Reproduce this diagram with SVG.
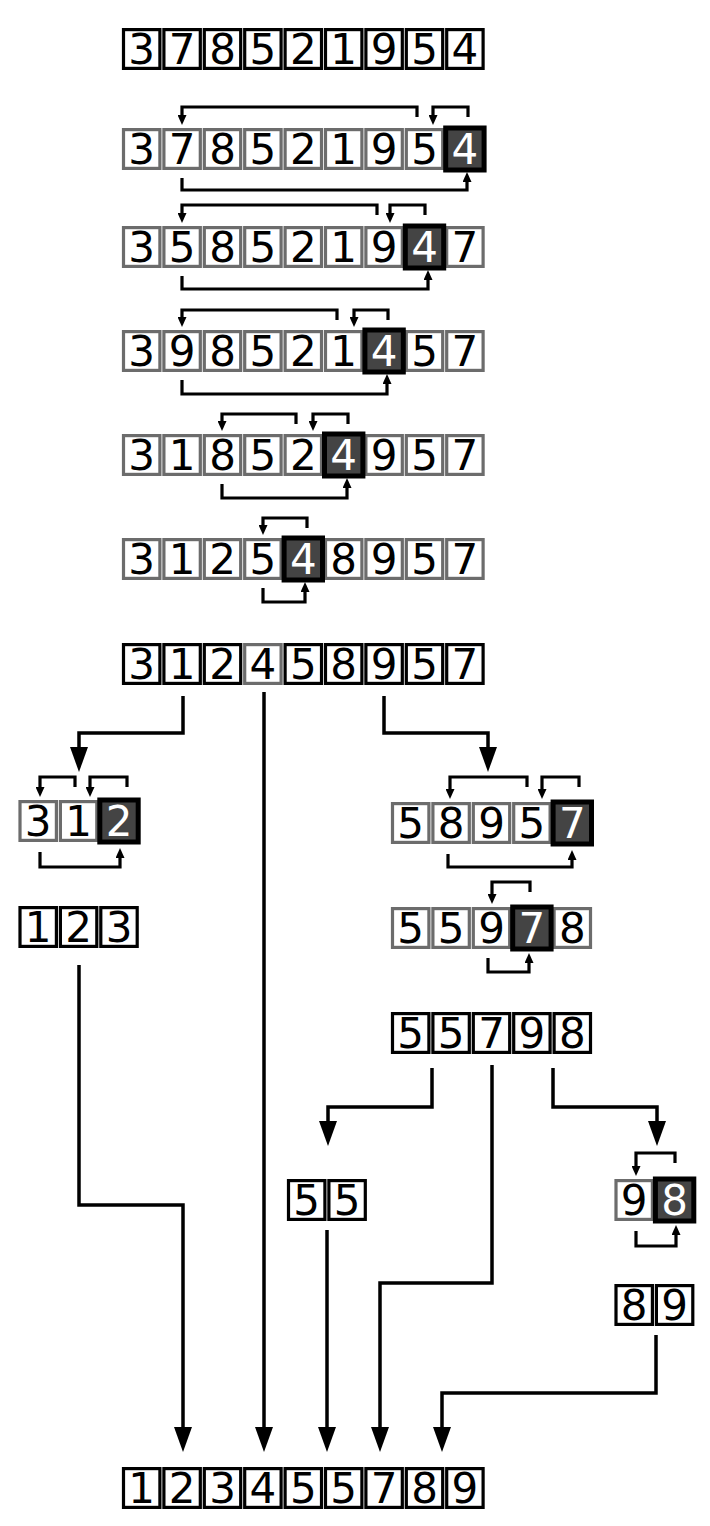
<svg xmlns="http://www.w3.org/2000/svg" width="710" height="1526" viewBox="0 0 710 1526">
<defs>
<style>
.c{fill:#fff;stroke:#000;stroke-width:3.2}
.g{fill:#fff;stroke:#6c6c6c;stroke-width:3.2}
.p{fill:#444;stroke:#000;stroke-width:5}
text{font-family:"DejaVu Sans","Verdana",sans-serif;font-size:42px;text-anchor:middle;fill:#000}
text.w{fill:#fff}
.br{fill:none;stroke:#000;stroke-width:3.2;marker-end:url(#sa)}
.cn{fill:none;stroke:#000;stroke-width:3.5;marker-end:url(#ba)}
</style>
<marker id="sa" viewBox="0 0 10 9" refX="4" refY="4.5" markerWidth="10" markerHeight="9" markerUnits="userSpaceOnUse" orient="auto"><path d="M0,0 L10,4.5 L0,9 z" fill="#000"/></marker>
<marker id="ba" viewBox="0 0 25 18" refX="12" refY="9" markerWidth="25" markerHeight="18" markerUnits="userSpaceOnUse" orient="auto"><path d="M0,0 L25,9 L0,18 z" fill="#000"/></marker>
</defs>
<rect width="710" height="1526" fill="#fff"/>

<g id="row1" transform="translate(121.5,28)">
<rect class="c" x="2" y="1.6" width="36.4" height="38.8"/><rect class="c" x="42.4" y="1.6" width="36.4" height="38.8"/><rect class="c" x="82.8" y="1.6" width="36.4" height="38.8"/><rect class="c" x="123.2" y="1.6" width="36.4" height="38.8"/><rect class="c" x="163.6" y="1.6" width="36.4" height="38.8"/><rect class="c" x="204" y="1.6" width="36.4" height="38.8"/><rect class="c" x="244.4" y="1.6" width="36.4" height="38.8"/><rect class="c" x="284.8" y="1.6" width="36.4" height="38.8"/><rect class="c" x="325.2" y="1.6" width="36.4" height="38.8"/>
<text x="20.2" y="36.3">3</text><text x="60.6" y="36.3">7</text><text x="101" y="36.3">8</text><text x="141.4" y="36.3">5</text><text x="181.8" y="36.3">2</text><text x="222.2" y="36.3">1</text><text x="262.6" y="36.3">9</text><text x="303" y="36.3">5</text><text x="343.4" y="36.3">4</text>
</g>

<g id="row2" transform="translate(121.5,128)">
<rect class="g" x="2" y="1.6" width="36.4" height="38.8"/><rect class="g" x="42.4" y="1.6" width="36.4" height="38.8"/><rect class="g" x="82.8" y="1.6" width="36.4" height="38.8"/><rect class="g" x="123.2" y="1.6" width="36.4" height="38.8"/><rect class="g" x="163.6" y="1.6" width="36.4" height="38.8"/><rect class="g" x="204" y="1.6" width="36.4" height="38.8"/><rect class="g" x="244.4" y="1.6" width="36.4" height="38.8"/><rect class="g" x="284.8" y="1.6" width="36.4" height="38.8"/>
<rect class="p" x="324.2" y="0" width="38.4" height="42"/>
<text x="20.2" y="36.3">3</text><text x="60.6" y="36.3">7</text><text x="101" y="36.3">8</text><text x="141.4" y="36.3">5</text><text x="181.8" y="36.3">2</text><text x="222.2" y="36.3">1</text><text x="262.6" y="36.3">9</text><text x="303" y="36.3">5</text><text class="w" x="343.4" y="36.3">4</text>
</g>

<g id="row3" transform="translate(121.5,226)">
<rect class="g" x="2" y="1.6" width="36.4" height="38.8"/><rect class="g" x="42.4" y="1.6" width="36.4" height="38.8"/><rect class="g" x="82.8" y="1.6" width="36.4" height="38.8"/><rect class="g" x="123.2" y="1.6" width="36.4" height="38.8"/><rect class="g" x="163.6" y="1.6" width="36.4" height="38.8"/><rect class="g" x="204" y="1.6" width="36.4" height="38.8"/><rect class="g" x="244.4" y="1.6" width="36.4" height="38.8"/><rect class="g" x="325.2" y="1.6" width="36.4" height="38.8"/>
<rect class="p" x="283.8" y="0" width="38.4" height="42"/>
<text x="20.2" y="36.3">3</text><text x="60.6" y="36.3">5</text><text x="101" y="36.3">8</text><text x="141.4" y="36.3">5</text><text x="181.8" y="36.3">2</text><text x="222.2" y="36.3">1</text><text x="262.6" y="36.3">9</text><text class="w" x="303" y="36.3">4</text><text x="343.4" y="36.3">7</text>
</g>

<g id="row4" transform="translate(121.5,330)">
<rect class="g" x="2" y="1.6" width="36.4" height="38.8"/><rect class="g" x="42.4" y="1.6" width="36.4" height="38.8"/><rect class="g" x="82.8" y="1.6" width="36.4" height="38.8"/><rect class="g" x="123.2" y="1.6" width="36.4" height="38.8"/><rect class="g" x="163.6" y="1.6" width="36.4" height="38.8"/><rect class="g" x="204" y="1.6" width="36.4" height="38.8"/><rect class="g" x="284.8" y="1.6" width="36.4" height="38.8"/><rect class="g" x="325.2" y="1.6" width="36.4" height="38.8"/>
<rect class="p" x="243.4" y="0" width="38.4" height="42"/>
<text x="20.2" y="36.3">3</text><text x="60.6" y="36.3">9</text><text x="101" y="36.3">8</text><text x="141.4" y="36.3">5</text><text x="181.8" y="36.3">2</text><text x="222.2" y="36.3">1</text><text class="w" x="262.6" y="36.3">4</text><text x="303" y="36.3">5</text><text x="343.4" y="36.3">7</text>
</g>

<g id="row5" transform="translate(121.5,434)">
<rect class="g" x="2" y="1.6" width="36.4" height="38.8"/><rect class="g" x="42.4" y="1.6" width="36.4" height="38.8"/><rect class="g" x="82.8" y="1.6" width="36.4" height="38.8"/><rect class="g" x="123.2" y="1.6" width="36.4" height="38.8"/><rect class="g" x="163.6" y="1.6" width="36.4" height="38.8"/><rect class="g" x="244.4" y="1.6" width="36.4" height="38.8"/><rect class="g" x="284.8" y="1.6" width="36.4" height="38.8"/><rect class="g" x="325.2" y="1.6" width="36.4" height="38.8"/>
<rect class="p" x="203" y="0" width="38.4" height="42"/>
<text x="20.2" y="36.3">3</text><text x="60.6" y="36.3">1</text><text x="101" y="36.3">8</text><text x="141.4" y="36.3">5</text><text x="181.8" y="36.3">2</text><text class="w" x="222.2" y="36.3">4</text><text x="262.6" y="36.3">9</text><text x="303" y="36.3">5</text><text x="343.4" y="36.3">7</text>
</g>

<g id="row6" transform="translate(121.5,538)">
<rect class="g" x="2" y="1.6" width="36.4" height="38.8"/><rect class="g" x="42.4" y="1.6" width="36.4" height="38.8"/><rect class="g" x="82.8" y="1.6" width="36.4" height="38.8"/><rect class="g" x="123.2" y="1.6" width="36.4" height="38.8"/><rect class="g" x="204" y="1.6" width="36.4" height="38.8"/><rect class="g" x="244.4" y="1.6" width="36.4" height="38.8"/><rect class="g" x="284.8" y="1.6" width="36.4" height="38.8"/><rect class="g" x="325.2" y="1.6" width="36.4" height="38.8"/>
<rect class="p" x="162.6" y="0" width="38.4" height="42"/>
<text x="20.2" y="36.3">3</text><text x="60.6" y="36.3">1</text><text x="101" y="36.3">2</text><text x="141.4" y="36.3">5</text><text class="w" x="181.8" y="36.3">4</text><text x="222.2" y="36.3">8</text><text x="262.6" y="36.3">9</text><text x="303" y="36.3">5</text><text x="343.4" y="36.3">7</text>
</g>

<g id="row7" transform="translate(121.5,643)">
<rect class="c" x="2" y="1.6" width="36.4" height="38.8"/><rect class="c" x="42.4" y="1.6" width="36.4" height="38.8"/><rect class="c" x="82.8" y="1.6" width="36.4" height="38.8"/><rect class="g" x="123.2" y="1.6" width="36.4" height="38.8"/><rect class="c" x="163.6" y="1.6" width="36.4" height="38.8"/><rect class="c" x="204" y="1.6" width="36.4" height="38.8"/><rect class="c" x="244.4" y="1.6" width="36.4" height="38.8"/><rect class="c" x="284.8" y="1.6" width="36.4" height="38.8"/><rect class="c" x="325.2" y="1.6" width="36.4" height="38.8"/>
<text x="20.2" y="36.3">3</text><text x="60.6" y="36.3">1</text><text x="101" y="36.3">2</text><text x="141.4" y="36.3">4</text><text x="181.8" y="36.3">5</text><text x="222.2" y="36.3">8</text><text x="262.6" y="36.3">9</text><text x="303" y="36.3">5</text><text x="343.4" y="36.3">7</text>
</g>

<g id="left312" transform="translate(18,800)">
<rect class="g" x="2" y="1.6" width="36.4" height="38.8"/><rect class="g" x="42.4" y="1.6" width="36.4" height="38.8"/>
<rect class="p" x="81.8" y="0" width="38.4" height="42"/>
<text x="20.2" y="36.3">3</text><text x="60.6" y="36.3">1</text><text class="w" x="101" y="36.3">2</text>
</g>

<g id="left123" transform="translate(18,906)">
<rect class="c" x="2" y="1.6" width="36.4" height="38.8"/><rect class="c" x="42.4" y="1.6" width="36.4" height="38.8"/><rect class="c" x="82.8" y="1.6" width="36.4" height="38.8"/>
<text x="20.2" y="36.3">1</text><text x="60.6" y="36.3">2</text><text x="101" y="36.3">3</text>
</g>

<g id="right58957" transform="translate(390.5,802)">
<rect class="g" x="2" y="1.6" width="36.4" height="38.8"/><rect class="g" x="42.4" y="1.6" width="36.4" height="38.8"/><rect class="g" x="82.8" y="1.6" width="36.4" height="38.8"/><rect class="g" x="123.2" y="1.6" width="36.4" height="38.8"/>
<rect class="p" x="162.6" y="0" width="38.4" height="42"/>
<text x="20.2" y="36.3">5</text><text x="60.6" y="36.3">8</text><text x="101" y="36.3">9</text><text x="141.4" y="36.3">5</text><text class="w" x="181.8" y="36.3">7</text>
</g>

<g id="right55978" transform="translate(390.5,907)">
<rect class="g" x="2" y="1.6" width="36.4" height="38.8"/><rect class="g" x="42.4" y="1.6" width="36.4" height="38.8"/><rect class="g" x="82.8" y="1.6" width="36.4" height="38.8"/><rect class="g" x="163.6" y="1.6" width="36.4" height="38.8"/>
<rect class="p" x="122.2" y="0" width="38.4" height="42"/>
<text x="20.2" y="36.3">5</text><text x="60.6" y="36.3">5</text><text x="101" y="36.3">9</text><text class="w" x="141.4" y="36.3">7</text><text x="181.8" y="36.3">8</text>
</g>

<g id="right55798" transform="translate(390.5,1012)">
<rect class="c" x="2" y="1.6" width="36.4" height="38.8"/><rect class="c" x="42.4" y="1.6" width="36.4" height="38.8"/><rect class="c" x="82.8" y="1.6" width="36.4" height="38.8"/><rect class="c" x="123.2" y="1.6" width="36.4" height="38.8"/><rect class="c" x="163.6" y="1.6" width="36.4" height="38.8"/>
<text x="20.2" y="36.3">5</text><text x="60.6" y="36.3">5</text><text x="101" y="36.3">7</text><text x="141.4" y="36.3">9</text><text x="181.8" y="36.3">8</text>
</g>

<g id="sub55" transform="translate(286.5,1179)">
<rect class="c" x="2" y="1.6" width="36.4" height="38.8"/><rect class="c" x="42.4" y="1.6" width="36.4" height="38.8"/>
<text x="20.2" y="36.3">5</text><text x="60.6" y="36.3">5</text>
</g>

<g id="sub98" transform="translate(614,1179)">
<rect class="g" x="2" y="1.6" width="36.4" height="38.8"/>
<rect class="p" x="41.4" y="0" width="38.4" height="42"/>
<text x="20.2" y="36.3">9</text><text class="w" x="60.6" y="36.3">8</text>
</g>

<g id="sub89" transform="translate(614,1284)">
<rect class="c" x="2" y="1.6" width="36.4" height="38.8"/><rect class="c" x="42.4" y="1.6" width="36.4" height="38.8"/>
<text x="20.2" y="36.3">8</text><text x="60.6" y="36.3">9</text>
</g>

<g id="final" transform="translate(121.5,1467)">
<rect class="c" x="2" y="1.6" width="36.4" height="38.8"/><rect class="c" x="42.4" y="1.6" width="36.4" height="38.8"/><rect class="c" x="82.8" y="1.6" width="36.4" height="38.8"/><rect class="c" x="123.2" y="1.6" width="36.4" height="38.8"/><rect class="c" x="163.6" y="1.6" width="36.4" height="38.8"/><rect class="c" x="204" y="1.6" width="36.4" height="38.8"/><rect class="c" x="244.4" y="1.6" width="36.4" height="38.8"/><rect class="c" x="284.8" y="1.6" width="36.4" height="38.8"/><rect class="c" x="325.2" y="1.6" width="36.4" height="38.8"/>
<text x="20.2" y="36.3">1</text><text x="60.6" y="36.3">2</text><text x="101" y="36.3">3</text><text x="141.4" y="36.3">4</text><text x="181.8" y="36.3">5</text><text x="222.2" y="36.3">5</text><text x="262.6" y="36.3">7</text><text x="303" y="36.3">8</text><text x="343.4" y="36.3">9</text>
</g>

<g id="connectors">
<path class="br" d="M417,117 V107 H182 V119"/>
<path class="br" d="M468,117 V107 H433 V119"/>
<path class="br" d="M182,178 V190 H467 V178"/>
<path class="br" d="M377,215 V205 H182 V217"/>
<path class="br" d="M425,215 V205 H390 V217"/>
<path class="br" d="M182,276 V289 H428 V276"/>
<path class="br" d="M337,320 V310 H182 V321"/>
<path class="br" d="M388,320 V310 H354 V321"/>
<path class="br" d="M182,380 V394 H387 V380"/>
<path class="br" d="M296,424 V414 H222 V425"/>
<path class="br" d="M348,424 V414 H313 V425"/>
<path class="br" d="M222,484 V498 H347 V484"/>
<path class="br" d="M307,528 V518 H263 V529"/>
<path class="br" d="M263,588 V602 H305 V588"/>
<path class="br" d="M75,787 V777 H40 V791"/>
<path class="br" d="M127,787 V777 H90 V791"/>
<path class="br" d="M40,852 V867 H120 V854"/>
<path class="br" d="M527,787 V777 H450 V793"/>
<path class="br" d="M579,787 V777 H542 V793"/>
<path class="br" d="M448,854 V867 H572 V856"/>
<path class="br" d="M530,892 V882 H492 V898"/>
<path class="br" d="M488,958 V972 H529 V959"/>
<path class="br" d="M675,1163 V1153 H636 V1170"/>
<path class="br" d="M636,1231 V1246 H676 V1231"/>
<path class="cn" d="M183,696 V733 H79 V759"/>
<path class="cn" d="M264,692 V1439"/>
<path class="cn" d="M384,696 V733 H488 V759"/>
<path class="cn" d="M79,965 V1205 H183 V1439"/>
<path class="cn" d="M432,1068 V1107 H328 V1133"/>
<path class="cn" d="M492,1065 V1283 H380 V1439"/>
<path class="cn" d="M553,1068 V1107 H657 V1133"/>
<path class="cn" d="M327,1230 V1439"/>
<path class="cn" d="M656,1335 V1393 H442 V1439"/>
</g>
</svg>
